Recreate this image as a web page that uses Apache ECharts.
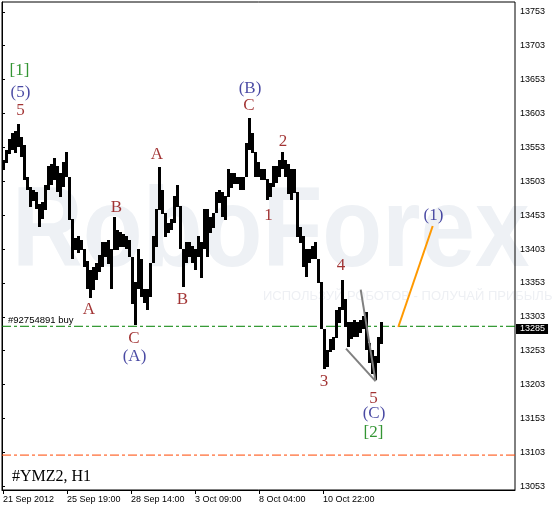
<!DOCTYPE html>
<html><head><meta charset="utf-8">
<script src="https://cdn.jsdelivr.net/npm/echarts@6/dist/echarts.min.js"></script>
<style>html,body{margin:0;padding:0;background:#fff}#c{width:554px;height:509px}</style>
</head><body><div id="c"></div>
<script>
// ---- data ----
const tickLabels = ['21 Sep 2012','25 Sep 19:00','28 Sep 14:00','3 Oct 09:00','8 Oct 04:00','10 Oct 22:00'];
const tickBars = [1, 65, 129, 193, 257, 321];
const priceTicks = [13053,13103,13153,13203,13253,13303,13353,13403,13453,13503,13553,13603,13653,13703,13753];
const barStart = 1, barStep = 3;
const barHigh = [
13534,13549,13564,13574,13576,13586,13568,13556,13509,13494,
13490,13486,13468,13471,13497,13524,13527,13537,13524,13515,
13530,13545,13509,13446,13419,13421,13416,13402,13384,13372,
13376,13382,13394,13412,13412,13416,13402,13450,13431,13427,
13424,13421,13416,13391,13353,13402,13387,13343,13343,13382,
13421,13461,13523,13490,13456,13441,13446,13480,13497,13465,
13402,13412,13412,13406,13402,13421,13412,13461,13461,13450,
13456,13486,13490,13486,13480,13520,13515,13515,13509,13509,
13509,13559,13595,13574,13545,13530,13520,13520,13505,13500,
13524,13524,13534,13545,13534,13527,13520,13520,13486,13435,
13421,13402,13402,13406,13412,13387,13353,13284,13254,13269,
13273,13313,13317,13357,13328,13294,13294,13298,13294,13298,
13303,13309,13264,13254,13244,13273,13295];
const barLow = [
13520,13530,13542,13549,13545,13553,13539,13505,13490,13465,
13475,13461,13435,13446,13461,13490,13497,13505,13486,13480,
13494,13509,13446,13387,13402,13397,13402,13376,13343,13331,
13343,13357,13369,13376,13391,13382,13343,13402,13402,13406,
13406,13402,13391,13323,13291,13343,13332,13323,13313,13332,
13382,13406,13461,13456,13421,13427,13431,13441,13465,13402,
13347,13382,13391,13382,13372,13391,13360,13402,13391,13427,
13435,13456,13471,13450,13446,13480,13494,13500,13500,13490,
13490,13509,13549,13545,13509,13509,13505,13505,13475,13480,
13494,13500,13509,13520,13509,13483,13475,13486,13421,13412,
13376,13362,13382,13387,13387,13353,13284,13225,13229,13250,
13254,13273,13294,13313,13288,13258,13269,13273,13273,13279,
13284,13254,13235,13220,13210,13235,13264];
const buyLevel = 13289;
const stopLevel = 13099;
const lastPrice = 13285;
const wedgeUpper = [[358.7, 13343], [373.5, 13208]];
const wedgeLower = [[344, 13256], [373.5, 13208]];
const forecast = [[396.3, 13288], [430.7, 13437]];
const redLabels = [['5',18.5,13608],['A',155,13542],['B',114.5,13464],['C',247,13614],['1',266.5,13452],['2',281,13561],
  ['A',87,13314],['C',132,13271],['B',180.5,13328],['4',339,13379],['3',322,13207],['5',371.5,13183]];
const blueLabels = [['(5)',18.5,13634],['(B)',248,13640],['(A)',132.5,13244],['(C)',372,13160],['(1)',431.5,13452]];
const greenLabels = [['[1]',17.5,13667],['[2]',371.5,13132]];

// ---- chart ----
const X_MIN = 0, X_MAX = 513;
const chart = echarts.init(document.getElementById('c'), null, {renderer:'canvas'});
const bars = barHigh.map((h,i)=>[barStart+barStep*i, barLow[i], h]);
const toItems = arr => arr.map(a=>({name:a[0], value:[a[1],a[2]]}));
const labelSeries = (arr, color) => ({
  type:'scatter', data: toItems(arr), symbolSize: 0.1, itemStyle:{color:'transparent'}, z: 6,
  label:{show:true, position:'inside', formatter:'{b}', color: color, fontFamily:'Liberation Serif', fontSize:17}
});
const hLine = (level, color) => ({type:'line', data:[[X_MIN, level],[X_MAX, level]], symbol:'none', z:2,
  lineStyle:{color: color, width:1, type:[9,3,3,3]}});
chart.setOption({
  animation:false,
  backgroundColor:'#fff',
  grid:{left:2, right:39, top:2, bottom:19, show:true, borderColor:'#000', borderWidth:1, backgroundColor:'transparent'},
  graphic:[
    {type:'text', left:12, top:178, z:-10, silent:true, scaleX:0.86,
      style:{text:'RoboForex', font:'bold 114px "Liberation Sans"', fill:'#eef1f5'}},
    {type:'text', left:263, top:290, z:-10, silent:true, style:{text:'ИСПОЛЬЗУЙ РОБОТОВ - ПОЛУЧАЙ ПРИБЫЛЬ', font:'13px "Liberation Sans"', fill:'#eef0f4'}},
    {type:'text', left:12, top:469, z:10, style:{text:'#YMZ2, H1', font:'16px "Liberation Serif"', fill:'#000'}},
    {type:'text', left:8, top:315, z:10, style:{text:'#92754891 buy', font:'9.5px "Liberation Sans"', fill:'#000'}}
  ],
  xAxis:{type:'value', min:X_MIN, max:X_MAX, splitLine:{show:false},
    axisLine:{lineStyle:{color:'#000'}},
    axisTick:{show:true, customValues: tickBars, length:4, lineStyle:{color:'#000'}},
    axisLabel:{customValues: tickBars, formatter: v => tickLabels[tickBars.indexOf(v)] || '', align:'left', margin:5,
      color:'#000', fontFamily:'Liberation Sans', fontSize:9}},
  yAxis:{type:'value', position:'right', min:13047.5, max:13767.4, scale:true, splitLine:{show:false},
    axisLine:{show:true, lineStyle:{color:'#000'}},
    axisTick:{show:true, customValues: priceTicks, length:3, lineStyle:{color:'#000'}},
    axisLabel:{customValues: priceTicks, formatter: v => String(v), margin:5, color:'#000', fontFamily:'Liberation Sans', fontSize:9}},
  series:[
    hLine(buyLevel, '#008000'),
    hLine(stopLevel, '#ff4500'),
    {type:'line', data:[[X_MIN,lastPrice],[X_MAX,lastPrice]], symbol:'none', lineStyle:{color:'transparent', width:1}, z:7,
      endLabel:{show:true, formatter:String(lastPrice), distance:1, backgroundColor:'#000', color:'#fff', padding:[1,3,0,4],
        fontFamily:'Liberation Sans', fontSize:9}},
    {type:'custom', data: bars, z:3, clip:true,
      renderItem:(params, api)=>{
        const x=api.value(0), lo=api.value(1), hi=api.value(2);
        const a=api.coord([x,hi]), b=api.coord([x,lo]);
        const left = Math.round(a[0] - 1.5);
        return {type:'rect', shape:{x:left, y:Math.floor(a[1]), width:3, height:Math.max(1,Math.ceil(b[1]-a[1]))}, style:{fill:'#000'}};
      }
    },
    {type:'line', data: wedgeUpper, symbol:'none', lineStyle:{color:'#808080', width:2}, z:4},
    {type:'line', data: wedgeLower, symbol:'none', lineStyle:{color:'#808080', width:2}, z:4},
    {type:'line', data: forecast, symbol:'none', lineStyle:{color:'#ff9900', width:2}, z:4},
    labelSeries(redLabels, '#8b0000'),
    labelSeries(blueLabels, '#1c1c8c'),
    labelSeries(greenLabels, '#007a00')
  ]
});
</script></body></html>
